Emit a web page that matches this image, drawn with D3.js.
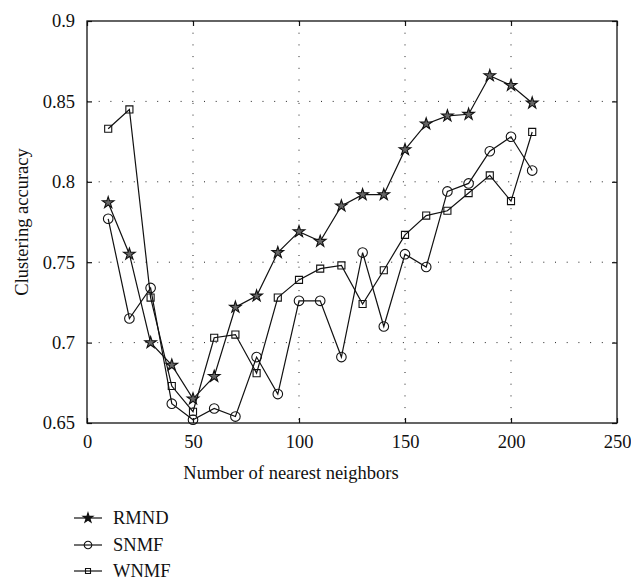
<!DOCTYPE html>
<html>
<head>
<meta charset="utf-8">
<script src="https://cdn.jsdelivr.net/npm/d3@7"></script>
<style>
  body { margin: 0; background: #fff; }
  svg text { font-family: "Liberation Serif", "DejaVu Serif", serif; fill: #111; }
</style>
</head>
<body>
<div id="chart"></div>
<script>
var neighbors = [10, 20, 30, 40, 50, 60, 70, 80, 90, 100, 110, 120, 130, 140, 150, 160, 170, 180, 190, 200, 210];
var rmnd = [0.787, 0.755, 0.700, 0.686, 0.665, 0.679, 0.722, 0.729, 0.756, 0.769, 0.763, 0.785, 0.792, 0.792, 0.820, 0.836, 0.841, 0.842, 0.866, 0.860, 0.849];
var snmf = [0.777, 0.715, 0.734, 0.662, 0.652, 0.659, 0.654, 0.691, 0.668, 0.726, 0.726, 0.691, 0.756, 0.710, 0.755, 0.747, 0.794, 0.799, 0.819, 0.828, 0.807];
var wnmf = [0.833, 0.845, 0.728, 0.673, 0.657, 0.703, 0.705, 0.681, 0.728, 0.739, 0.746, 0.748, 0.724, 0.745, 0.767, 0.779, 0.782, 0.793, 0.804, 0.788, 0.831];
var xTicks = [0, 50, 100, 150, 200, 250];
var yTicks = [0.65, 0.7, 0.75, 0.8, 0.85, 0.9];
var seriesNames = ["RMND", "SNMF", "WNMF"];

var margin = {top: 21, right: 14, bottom: 157, left: 87},
    width = 631 - margin.left - margin.right,
    height = 580 - margin.top - margin.bottom;

var svg = d3.select("#chart").append("svg")
    .attr("width", 631)
    .attr("height", 580);

var g = svg.append("g")
    .attr("transform", "translate(" + margin.left + "," + margin.top + ")");

var x = d3.scaleLinear().domain([0, 250]).range([0, width]);
var y = d3.scaleLinear().domain([0.65, 0.9]).range([height, 0]);

// dotted grid
g.selectAll(".vgrid")
    .data(xTicks.slice(1, -1))
    .enter().append("line")
        .attr("x1", d => x(d)).attr("x2", d => x(d))
        .attr("y1", 0).attr("y2", height)
        .attr("stroke", "#222").attr("stroke-width", 1)
        .attr("stroke-dasharray", "1,10.7");
g.selectAll(".hgrid")
    .data(yTicks.slice(1, -1))
    .enter().append("line")
        .attr("y1", d => y(d)).attr("y2", d => y(d))
        .attr("x1", 0).attr("x2", width)
        .attr("stroke", "#222").attr("stroke-width", 1)
        .attr("stroke-dasharray", "1,10.7");

// axes, ticks pointing inward on all four sides
var tickLen = 5;
g.append("g")
    .attr("transform", "translate(0," + height + ")")
    .call(d3.axisBottom(x).tickValues(xTicks).tickSizeInner(-tickLen).tickSizeOuter(0).tickPadding(12).tickFormat(d3.format("d")))
    .call(a => a.select(".domain").remove())
    .selectAll("text").style("font-size", "18.5px");
g.append("g")
    .call(d3.axisLeft(y).tickValues(yTicks).tickSizeInner(-tickLen).tickSizeOuter(0).tickPadding(12).tickFormat(d => d3.format("")(+d.toFixed(2))))
    .call(a => a.select(".domain").remove())
    .selectAll("text").style("font-size", "18.5px");
g.append("g")
    .call(d3.axisTop(x).tickValues(xTicks).tickSizeInner(-tickLen).tickSizeOuter(0).tickFormat(""))
    .call(a => a.select(".domain").remove());
g.append("g")
    .attr("transform", "translate(" + width + ",0)")
    .call(d3.axisRight(y).tickValues(yTicks).tickSizeInner(-tickLen).tickSizeOuter(0).tickFormat(""))
    .call(a => a.select(".domain").remove());
g.selectAll(".tick line").attr("stroke", "#111").attr("stroke-width", 1.2);

g.append("rect")
    .attr("width", width).attr("height", height)
    .attr("fill", "none").attr("stroke", "#111").attr("stroke-width", 1.3);

// axis titles
svg.append("text")
    .attr("x", 291)
    .attr("y", 479)
    .attr("text-anchor", "middle")
    .style("font-size", "18.5px")
    .text("Number of nearest neighbors");
svg.append("text")
    .attr("transform", "translate(28," + (margin.top + height / 2) + ") rotate(-90)")
    .attr("text-anchor", "middle")
    .style("font-size", "18.5px")
    .text("Clustering accuracy");

var star = d3.symbol().type(d3.symbolStar).size(42);
var circle = d3.symbol().type(d3.symbolCircle).size(72);
var square = d3.symbol().type(d3.symbolSquare).size(50);

function drawSeries(vals, sym, fill) {
    var pts = neighbors.map((n, i) => [n, vals[i]]);
    g.append("path")
        .datum(pts)
        .attr("fill", "none")
        .attr("stroke", "#111")
        .attr("stroke-width", 1.2)
        .attr("d", d3.line().x(d => x(d[0])).y(d => y(d[1])));
    g.selectAll(null)
        .data(pts)
        .enter().append("path")
            .attr("transform", d => "translate(" + x(d[0]) + "," + y(d[1]) + ")")
            .attr("d", sym)
            .attr("fill", fill)
            .attr("stroke", "#111")
            .attr("stroke-width", 1.1);
}
drawSeries(wnmf, square, "none");
drawSeries(snmf, circle, "none");
drawSeries(rmnd, star, "#666");

// legend
var legendY = [518, 545, 571];
var legendSym = [d3.symbol().type(d3.symbolStar).size(30), d3.symbol().type(d3.symbolCircle).size(45), d3.symbol().type(d3.symbolSquare).size(25)];
var legendFill = ["#111", "none", "none"];
var leg = svg.append("g");
seriesNames.forEach(function(name, i) {
    leg.append("line")
        .attr("x1", 74).attr("x2", 102)
        .attr("y1", legendY[i]).attr("y2", legendY[i])
        .attr("stroke", "#111").attr("stroke-width", 1.2);
    leg.append("path")
        .attr("transform", "translate(88," + legendY[i] + ")")
        .attr("d", legendSym[i])
        .attr("fill", legendFill[i])
        .attr("stroke", "#111").attr("stroke-width", 1.1);
    leg.append("text")
        .attr("x", 113).attr("y", legendY[i])
        .attr("dy", "0.35em")
        .style("font-size", "18.5px")
        .text(name);
});
</script>
</body>
</html>
